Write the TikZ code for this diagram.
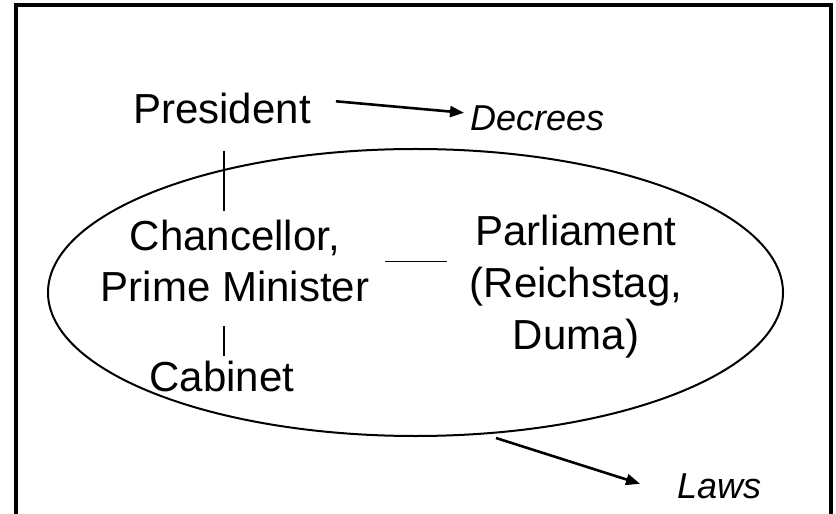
\documentclass[tikz,border=0pt]{standalone}
\usepackage{fontspec}
\setmainfont{Liberation Sans}
\usetikzlibrary{arrows.meta,shapes.geometric}

\tikzset{
  label/.style={inner sep=0pt, font=\fontsize{42bp}{51.5bp}\selectfont, align=center},
  result/.style={inner sep=0pt, font=\fontsize{36bp}{43bp}\selectfont\itshape},
  conn/.style={line width=1.4bp},
  arr/.style={line width=2.6bp, -{Triangle[length=14bp,width=11bp]}},
  frame/.style={line width=3.2bp},
}

\begin{document}
\begin{tikzpicture}[x=1bp,y=-1bp]
  \useasboundingbox (0,0) rectangle (836,514);

  % open frame (the lower edge runs off the page)
  \draw[frame] (16,520) -- (16,5) -- (831,5) -- (831,520);

  % the government ellipse
  \node (gov) [draw, ellipse, line width=2bp, inner sep=0pt,
               minimum width=735bp, minimum height=287bp] at (415.5,292.5) {};

  % offices (a multi-line node sits on the baseline of its last line)
  \node (pres)  [label, anchor=base] at (222,124) {President};
  \node (chanc) [label, anchor=base] at (235,302) {Chancellor,\\Prime Minister};
  \node (cab)   [label, anchor=base] at (222,391) {Cabinet};
  \node (parl)  [label, anchor=base] at (576,349) {Parliament\\(Reichstag,\\Duma)};

  % outputs
  \node (decr) [result, anchor=base west] at (470,131) {Decrees};
  \node (laws) [result, anchor=base west] at (677,498) {Laws};

  % links between offices
  \draw[conn, shorten <=26bp, shorten >=8.4bp]
    ([xshift=2bp]pres.south) -- ([xshift=2bp]pres.south |- chanc.north);
  \draw[conn, shorten <=4.4bp, shorten >=23bp]
    ([xshift=2bp]cab.north) -- ([xshift=2bp]cab.north |- chanc.south);
  \draw[conn, shorten <=16bp, shorten >=23bp]
    (chanc.east) -- (chanc.east -| parl.west);

  % what each side produces
  \draw[arr] ([shift={(25,-7.7)}]pres.east) -- ([shift={(-6,-6)}]decr.west);
  \draw[arr] ([shift={(80.5,1)}]gov.south) -- ([shift={(-37,-2)}]laws.west);
\end{tikzpicture}
\end{document}
